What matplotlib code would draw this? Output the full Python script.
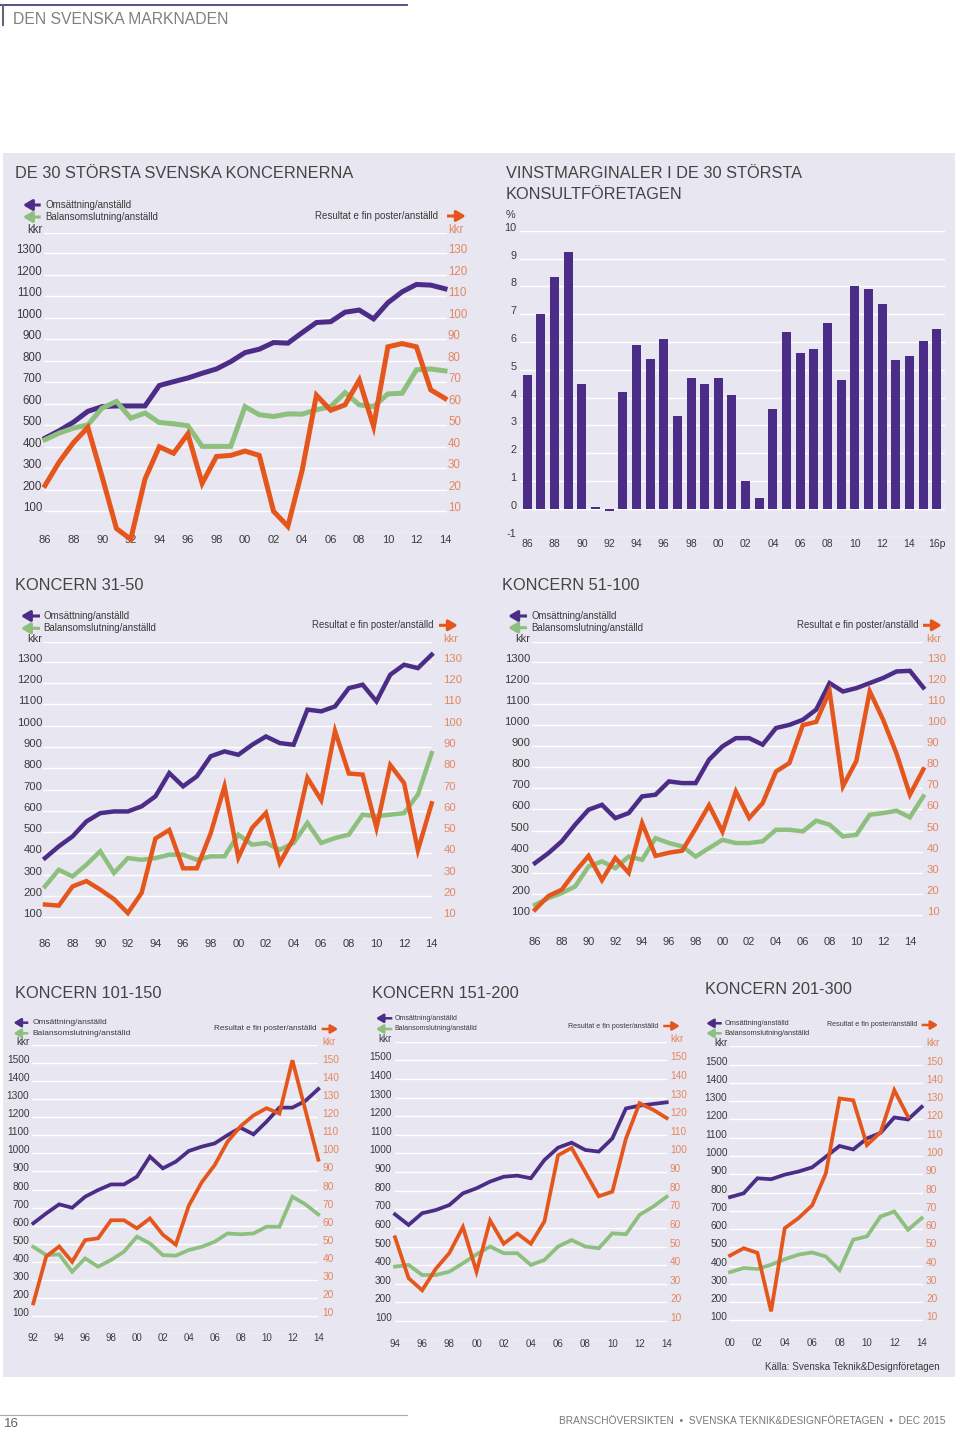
import matplotlib.pyplot as plt
from matplotlib.lines import Line2D
from matplotlib.patches import Rectangle, FancyArrowPatch

plt.rcParams['font.family'] = ['Liberation Sans', 'DejaVu Sans']
plt.rcParams['axes.unicode_minus'] = False

# ---- data (kkr per anställd, resultat on right axis) ----
big_years = list(range(1986, 2015))
big_oms = [440, 475, 515, 565, 587, 590, 590, 590, 685, 703, 720, 742, 762, 796, 838, 854,
           885, 882, 931, 978, 982, 1026, 1036, 995, 1070, 1121, 1155, 1152, 1135]
big_bal = [433, 464, 487, 502, 580, 611, 533, 557, 513, 507, 498, 402, 402, 402, 587, 549,
           541, 553, 552, 572, 587, 652, 595, 587, 646, 649, 758, 762, 753]
big_res = [22, 33, 42, 49, 26, 2, -3, 25, 40, 37, 46, 23, 35.5, 36, 38, 36,
           10, 3, 29, 64, 57, 59.5, 71, 49.5, 86.5, 88, 86.5, 66.5, 62.5]

# vinstmarginal %, 86 - 16p
margin_labels = ['86', '87', '88', '89', '90', '91', '92', '93', '94', '95', '96', '97', '98', '99',
                 '00', '01', '02', '03', '04', '05', '06', '07', '08', '09', '10', '11', '12', '13',
                 '14', '15', '16p']
margins = [4.8, 7.0, 8.35, 9.25, 4.5, 0.06, -0.06, 4.2, 5.9, 5.4, 6.1, 3.35, 4.7, 4.5, 4.7, 4.1,
           1.0, 0.4, 3.6, 6.35, 5.6, 5.75, 6.7, 4.65, 8.0, 7.9, 7.35, 5.35, 5.5, 6.05, 6.45]

k31_years = list(range(1986, 2015))
k31_oms = [378, 433, 480, 550, 589, 597, 597, 621, 668, 777, 715, 762, 856, 879, 863, 910,
           949, 918, 910, 1075, 1067, 1090, 1176, 1192, 1114, 1239, 1286, 1270, 1333]
k31_bal = [245, 323, 292, 347, 410, 308, 378, 370, 378, 394, 394, 370, 386, 386, 488, 441,
           449, 417, 449, 543, 449, 472, 488, 582, 574, 582, 589, 676, 871]
k31_res = [16, 15.5, 24.5, 27, 23, 18.5, 12, 21.5, 47, 51, 33, 33, 49.5, 71.5, 38, 52,
           59, 35.5, 47, 75.5, 65, 97.5, 77.5, 77, 52, 81.5, 73, 41.5, 63.5]

k51_years = list(range(1986, 2016))
k51_oms = [346, 393, 449, 528, 599, 622, 559, 583, 662, 670, 733, 725, 725, 836, 899, 938,
           938, 907, 986, 1001, 1025, 1073, 1199, 1159, 1175, 1199, 1223, 1254, 1257, 1178]
k51_bal = [148, 180, 204, 235, 330, 354, 322, 377, 362, 464, 441, 425, 377, 417, 456, 441,
           441, 449, 504, 504, 496, 547, 528, 472, 480, 575, 583, 594, 563, 662]
k51_res = [12.5, 19, 22, 30.5, 38, 26.5, 37, 30, 53.5, 38, 39.5, 40.5, 51, 62, 49.5, 68.5,
           56, 63, 78, 82, 100, 101.5, 116, 71, 83, 116, 102.5, 86.5, 67, 79]

k101_years = list(range(1992, 2015))
k101_oms = [613, 668, 718, 699, 760, 797, 828, 828, 871, 982, 917, 954, 1013, 1037, 1055,
            1101, 1142, 1105, 1175, 1253, 1253, 1290, 1356]
k101_bal = [483, 437, 441, 345, 419, 373, 410, 456, 539, 502, 437, 434, 465, 483, 511,
            557, 552, 557, 594, 594, 760, 718, 662]
k101_res = [17, 43, 48.5, 40, 52, 53, 63, 63, 58.5, 64, 55, 49.5, 71, 84, 93.5,
            106.5, 115, 121, 125, 122, 151.5, 124, 96.5]

k151_years = list(range(1994, 2015))
k151_oms = [673, 616, 679, 696, 723, 786, 813, 849, 875, 881, 867, 965, 1031, 1058, 1019,
            1010, 1081, 1242, 1257, 1266, 1275]
k151_bal = [392, 401, 347, 347, 365, 410, 458, 500, 464, 464, 401, 428, 500, 535, 500,
            491, 571, 566, 670, 714, 768]
k151_res = [55, 33, 26.5, 38, 46.5, 60.5, 36.5, 64, 51.5, 57, 51.5, 63.5, 99, 103, 90,
            77, 79.5, 108, 127, 123.5, 119]

k201_years = list(range(2000, 2015))
k201_oms = [775, 796, 878, 873, 898, 915, 938, 996, 1055, 1036, 1096, 1127, 1211, 1200, 1269]
k201_bal = [364, 387, 382, 405, 435, 460, 472, 450, 375, 542, 560, 669, 696, 596, 660]
k201_res = [45.5, 49.5, 47, 15, 60.5, 66, 73, 90.5, 131.5, 130.5, 106, 113, 136, 121.5]

PURPLE = '#4b2d87'
ORANGE = '#e4561c'
GREEN = '#8dbf7f'
PANEL = '#e8e6f0'
TEXT = '#3a3a3a'
ORANGE_TXT = '#e3875f'

W, H = 960, 1436
fig = plt.figure(figsize=(W / 100, H / 100), dpi=100)


def fx(x):
    return x / W


def fy(y):
    return 1 - y / H


def hline(x0, x1, y, color, lw):
    fig.add_artist(Line2D([fx(x0), fx(x1)], [fy(y), fy(y)], transform=fig.transFigure,
                          color=color, lw=lw))


def arrow(xa, xb, y, color, lw, ms):
    a = FancyArrowPatch((fx(xa), fy(y)), (fx(xb), fy(y)), transform=fig.transFigure,
                        arrowstyle='-|>,head_length=0.55,head_width=0.32', mutation_scale=ms,
                        lw=lw, color=color, shrinkA=0, shrinkB=0, capstyle='butt')
    fig.add_artist(a)


def title(x, y, s):
    fig.text(fx(x), fy(y), s, fontsize=11.8, color='#444444', va='center')


# page frame
fig.add_artist(Rectangle((fx(2.7), fy(1376.7)), fx(955) - fx(2.7), fy(152.7) - fy(1376.7),
                         transform=fig.transFigure, facecolor=PANEL, edgecolor='none', zorder=-1))
hline(0, 407, 5, '#4b4080', 1.3)
fig.add_artist(Line2D([fx(3), fx(3)], [fy(5), fy(25)], transform=fig.transFigure,
                      color='#66667a', lw=1.5))
fig.text(fx(13), fy(19), 'DEN SVENSKA MARKNADEN', fontsize=11.3, color='#808080', va='center')
hline(0, 407, 1415, '#aaaaaa', 0.8)
fig.text(fx(3), fy(1424), '16', fontsize=9.7, color='#666666', va='center')
fig.text(fx(945), fy(1421), 'BRANSCHÖVERSIKTEN  •  SVENSKA TEKNIK&DESIGNFÖRETAGEN  •  DEC 2015',
         fontsize=7.3, color='#777777', va='center', ha='right')
fig.text(fx(940), fy(1367), 'Källa: Svenska Teknik&Designföretagen', fontsize=7.1,
         color=TEXT, va='center', ha='right')


def line_chart(box, years, oms, bal, res, kkr, top_tick, line_px, lw, fs, xfs, lpad, rpad, xpad):
    l, t, r, b = box
    ax = fig.add_axes([fx(l), fy(b), (r - l) / W, (b - t) / H])
    x0, x1 = line_px
    k = (x1 - x0) / (years[-1] - years[0])
    ax.set_xlim(years[0] - (x0 - l) / k, years[-1] + (r - x1) / k)
    ax.set_ylim(0, kkr)
    ax.set_facecolor('none')
    for s in ax.spines.values():
        s.set_visible(False)

    lt = list(range(0, top_tick + 1, 100)) + [kkr]
    ax.set_yticks(lt)
    ax.set_yticklabels([''] + [str(v) for v in lt[1:-1]] + ['kkr'])
    ax.grid(axis='y', color='white', lw=1.0)
    ax.set_axisbelow(True)
    xt = [y for y in years if y % 2 == 0]
    ax.set_xticks(xt)
    ax.set_xticklabels(['%02d' % (y % 100) for y in xt])
    ax.tick_params(axis='y', length=0, pad=lpad * 0.72, labelsize=fs, labelcolor=TEXT)
    ax.tick_params(axis='x', length=0, pad=xpad, labelsize=xfs, labelcolor=TEXT)

    ax.plot(years, oms, color=PURPLE, lw=lw, solid_joinstyle='miter', clip_on=False, zorder=3)
    ax.plot(years, bal, color=GREEN, lw=lw, solid_joinstyle='miter', clip_on=False, zorder=4)

    ax2 = ax.twinx()
    ax2.set_ylim(0, kkr / 10)
    for s in ax2.spines.values():
        s.set_visible(False)
    rt = [v / 10 for v in lt]
    ax2.set_yticks(rt)
    ax2.set_yticklabels([''] + ['%d' % v for v in rt[1:-1]] + ['kkr'])
    ax2.tick_params(axis='y', length=0, pad=rpad * 0.72, labelsize=fs, labelcolor=ORANGE_TXT)
    ax2.plot(years[:len(res)], res, color=ORANGE, lw=lw, solid_joinstyle='miter', clip_on=False)
    plt.setp(ax.get_yticklabels(), va='baseline')
    plt.setp(ax2.get_yticklabels(), va='baseline')
    return ax


def legend(ax_, ay1, ay2, tx, fs, rend, ry, rfs, ox, alw, ms):
    arrow(ax_[1], ax_[0], ay1, PURPLE, alw, ms)
    arrow(ax_[1], ax_[0], ay2, GREEN, alw, ms)
    fig.text(fx(tx), fy(ay1), 'Omsättning/anställd', fontsize=fs, color=TEXT, va='center')
    fig.text(fx(tx), fy(ay2), 'Balansomslutning/anställd', fontsize=fs, color=TEXT, va='center')
    fig.text(fx(rend), fy(ry), 'Resultat e fin poster/anställd', fontsize=rfs, color=TEXT,
             va='center', ha='right')
    arrow(ox[0], ox[1], ry, ORANGE, alw, ms)


# ---- De 30 största ----
title(15, 173, 'DE 30 STÖRSTA SVENSKA KONCERNERNA')
line_chart((44, 233.3, 447, 532.8), big_years, big_oms, big_bal, big_res, 1393, 1300,
           (45, 445), 3.6, 8.3, 8, 1.7, 1.0, 1.6)
legend((22.7, 40.7), 205, 217, 45, 7, 437.7, 216, 7, (447, 466), 2.2, 10)

# ---- Vinstmarginaler ----
fig.text(fx(506), fy(173.3), 'VINSTMARGINALER I DE 30 STÖRSTA', fontsize=11.8, color='#444444',
         va='center')
fig.text(fx(506), fy(194.3), 'KONSULTFÖRETAGEN', fontsize=11.8, color='#444444', va='center')
fig.text(fx(506), fy(215.5), '%', fontsize=7.8, color=TEXT, va='center')
l, t, r, b = 520, 230.7, 945, 536.7
axb = fig.add_axes([fx(l), fy(b), (r - l) / W, (b - t) / H])
axb.bar(range(len(margins)), margins, width=0.66, color=PURPLE, zorder=2)
axb.set_xlim(-0.53, 30.61)
axb.set_ylim(-1, 10)
axb.set_facecolor('none')
for s in axb.spines.values():
    s.set_visible(False)
axb.set_yticks(range(-1, 11))
axb.grid(axis='y', color='white', lw=1.0)
axb.set_axisbelow(True)
axb.set_xticks(range(0, len(margins), 2))
axb.set_xticklabels(margin_labels[::2])
axb.tick_params(axis='y', length=0, pad=3.3 * 0.72, labelsize=7.8, labelcolor=TEXT)
axb.tick_params(axis='x', length=0, pad=2, labelsize=7.5, labelcolor=TEXT)
plt.setp(axb.get_yticklabels(), va='baseline')

# ---- Koncern 31-50 ----
title(15, 585, 'KONCERN 31-50')
line_chart((43.3, 641.7, 431.7, 938.6), k31_years, k31_oms, k31_bal, k31_res, 1394, 1300,
           (45, 440), 3.2, 8.1, 8, 0.6, 11.6, 0.5)
legend((20.7, 40), 616, 628.3, 43.3, 7, 434, 625.3, 6.9, (439, 458), 2.2, 10)

# ---- Koncern 51-100 ----
title(501.7, 585, 'KONCERN 51-100')
line_chart((531.7, 641.7, 923.3, 936.1), k51_years, k51_oms, k51_bal, k51_res, 1395, 1300,
           (535, 923.3), 3.2, 8.1, 8, 1.7, 3.4, 0.9)
legend((508, 527), 616, 627.7, 531, 6.9, 918.3, 625.3, 6.9, (923, 942), 2.2, 10)

# ---- Koncern 101-150 ----
title(15, 993.3, 'KONCERN 101-150')
line_chart((31.7, 1044.9, 318.3, 1334.1), k101_years, k101_oms, k101_bal, k101_res, 1600, 1500,
           (33.3, 320), 2.7, 7.3, 7, 2.4, 4.4, -1)
legend((13.3, 28.3), 1022.7, 1033.3, 32.3, 6, 316.7, 1029, 5.9, (321.7, 338.3), 1.8, 8)

# ---- Koncern 151-200 ----
title(371.7, 993.3, 'KONCERN 151-200')
line_chart((395, 1041.8, 666.7, 1339.6), k151_years, k151_oms, k151_bal, k151_res, 1600, 1500,
           (393.3, 668.3), 2.7, 7.2, 7, 3.3, 3.3, -0.6)
legend((375.7, 392.3), 1018.3, 1029, 394.3, 5, 658.3, 1026, 5.1, (663.3, 680), 1.8, 8)

# ---- Koncern 201-300 ----
title(705, 989, 'KONCERN 201-300')
line_chart((729.3, 1046.4, 923.3, 1338.7), k201_years, k201_oms, k201_bal, k201_res, 1600, 1500,
           (730, 921.7), 2.7, 7.3, 7, 2.0, 2.7, -0.7)
legend((706, 721.7), 1023.3, 1033.3, 724.3, 5.35, 917.7, 1025, 5.1, (921.7, 938.3), 1.8, 8)

fig.savefig('out.png', dpi=100)
